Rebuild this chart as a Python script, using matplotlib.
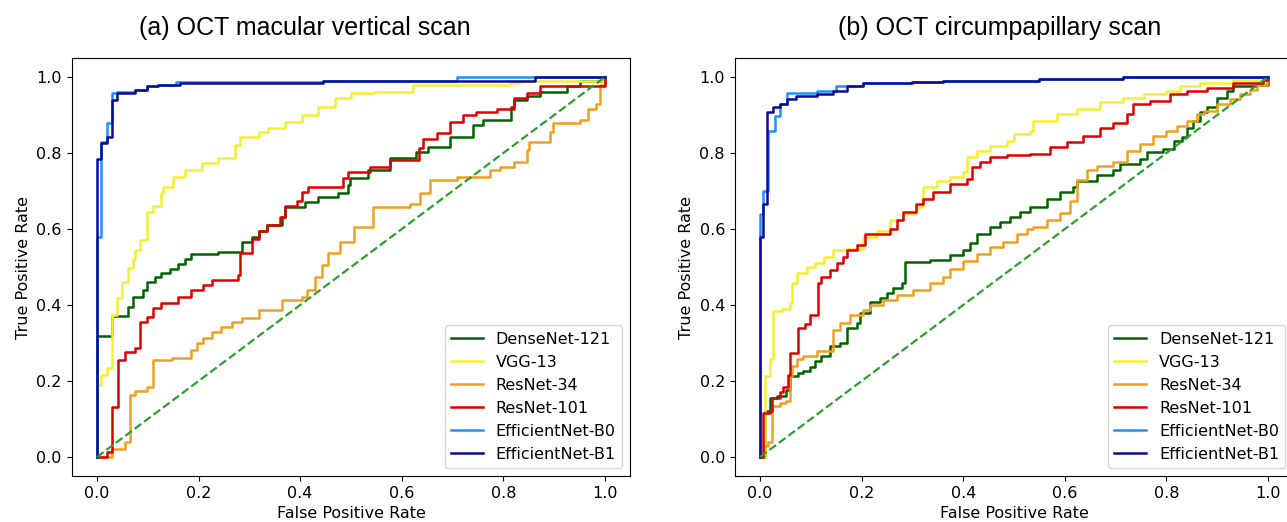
import numpy as np
import matplotlib
matplotlib.use('Agg')
import matplotlib.pyplot as plt

#dane (fpr = punkt skoku, tpr = poziom po skoku)
models = ['DenseNet-121', 'VGG-13', 'ResNet-34', 'ResNet-101', 'EfficientNet-B0', 'EfficientNet-B1']
colors = ['#006400', '#f5f032', '#f0a020', '#e00000', '#2090ff', '#0a0a9a']

#(a) OCT macular vertical scan
a_dense_fpr = [0, 0, 0.029, 0.062, 0.07, 0.091, 0.098, 0.114, 0.127, 0.144, 0.16, 0.173, 0.186, 0.239, 0.285, 0.305, 0.318, 0.334, 0.364, 0.37, 0.409, 0.436, 0.475, 0.495, 0.498, 0.534, 0.577, 0.629, 0.652, 0.695, 0.741, 0.76, 0.816, 0.82, 0.846, 0.872, 0.925, 0.95, 1.0]
a_dense_tpr = [0, 0.318, 0.37, 0.396, 0.42, 0.44, 0.461, 0.474, 0.483, 0.496, 0.509, 0.522, 0.535, 0.54, 0.567, 0.58, 0.596, 0.61, 0.632, 0.659, 0.672, 0.685, 0.694, 0.716, 0.733, 0.755, 0.786, 0.803, 0.816, 0.843, 0.874, 0.886, 0.922, 0.94, 0.95, 0.96, 0.975, 0.99, 1.0]
a_vgg_fpr = [0, 0, 0.008, 0.019, 0.029, 0.039, 0.05, 0.062, 0.07, 0.075, 0.085, 0.098, 0.11, 0.127, 0.13, 0.15, 0.173, 0.206, 0.238, 0.272, 0.282, 0.318, 0.336, 0.37, 0.403, 0.436, 0.469, 0.501, 0.545, 0.622, 0.813, 0.83, 1.0]
a_vgg_tpr = [0, 0.19, 0.216, 0.233, 0.374, 0.418, 0.46, 0.497, 0.52, 0.545, 0.57, 0.645, 0.66, 0.694, 0.71, 0.738, 0.755, 0.773, 0.786, 0.821, 0.843, 0.856, 0.865, 0.882, 0.9, 0.922, 0.944, 0.957, 0.96, 0.979, 0.985, 0.99, 1.0]
a_r34_fpr = [0, 0.029, 0.055, 0.065, 0.075, 0.098, 0.111, 0.147, 0.186, 0.196, 0.209, 0.226, 0.245, 0.265, 0.285, 0.318, 0.364, 0.403, 0.413, 0.429, 0.442, 0.455, 0.478, 0.505, 0.544, 0.616, 0.636, 0.656, 0.708, 0.774, 0.793, 0.82, 0.846, 0.85, 0.892, 0.898, 0.951, 0.967, 0.983, 0.99, 1.0]
a_r34_tpr = [0, 0.02, 0.04, 0.163, 0.175, 0.184, 0.255, 0.26, 0.282, 0.299, 0.312, 0.33, 0.343, 0.356, 0.365, 0.387, 0.413, 0.422, 0.44, 0.474, 0.505, 0.536, 0.567, 0.606, 0.659, 0.667, 0.694, 0.729, 0.737, 0.755, 0.764, 0.777, 0.808, 0.83, 0.856, 0.878, 0.886, 0.917, 0.93, 0.98, 1.0]
a_r101_fpr = [0, 0.019, 0.029, 0.042, 0.055, 0.075, 0.085, 0.098, 0.111, 0.127, 0.16, 0.186, 0.209, 0.226, 0.278, 0.281, 0.305, 0.318, 0.334, 0.36, 0.37, 0.393, 0.403, 0.416, 0.485, 0.495, 0.537, 0.577, 0.633, 0.642, 0.669, 0.695, 0.721, 0.747, 0.787, 0.82, 0.846, 0.872, 1.0]
a_r101_tpr = [0, 0.014, 0.132, 0.255, 0.276, 0.287, 0.356, 0.369, 0.391, 0.404, 0.422, 0.44, 0.452, 0.465, 0.479, 0.536, 0.575, 0.596, 0.61, 0.632, 0.66, 0.675, 0.698, 0.711, 0.733, 0.751, 0.764, 0.782, 0.812, 0.838, 0.852, 0.882, 0.9, 0.909, 0.915, 0.944, 0.957, 0.975, 1.0]
a_b0_fpr = [0, 0, 0.008, 0.02, 0.029, 0.039, 0.075, 0.098, 0.12, 0.155, 0.445, 0.708, 1.0]
a_b0_tpr = [0, 0.58, 0.83, 0.88, 0.957, 0.96, 0.967, 0.976, 0.98, 0.988, 0.99, 1.0, 1.0]
a_b1_fpr = [0, 0, 0.008, 0.019, 0.029, 0.039, 0.075, 0.098, 0.12, 0.163, 0.445, 0.862, 1.0]
a_b1_tpr = [0, 0.784, 0.826, 0.843, 0.94, 0.957, 0.967, 0.976, 0.98, 0.985, 0.99, 1.0, 1.0]

#(b) OCT circumpapillary scan
b_dense_fpr = [0, 0.01, 0.02, 0.033, 0.052, 0.059, 0.075, 0.085, 0.098, 0.108, 0.121, 0.138, 0.157, 0.171, 0.19, 0.197, 0.217, 0.236, 0.249, 0.262, 0.279, 0.285, 0.335, 0.374, 0.4, 0.413, 0.427, 0.453, 0.473, 0.492, 0.512, 0.531, 0.564, 0.591, 0.617, 0.623, 0.663, 0.695, 0.709, 0.748, 0.761, 0.794, 0.814, 0.83, 0.84, 0.853, 0.866, 0.879, 0.899, 0.919, 0.932, 0.978, 1.0]
b_dense_tpr = [0, 0.12, 0.156, 0.16, 0.177, 0.213, 0.22, 0.227, 0.236, 0.252, 0.265, 0.291, 0.3, 0.34, 0.353, 0.379, 0.409, 0.418, 0.431, 0.444, 0.457, 0.514, 0.518, 0.531, 0.545, 0.563, 0.588, 0.606, 0.619, 0.632, 0.645, 0.658, 0.68, 0.697, 0.71, 0.727, 0.741, 0.754, 0.771, 0.784, 0.802, 0.81, 0.832, 0.841, 0.867, 0.885, 0.907, 0.92, 0.946, 0.963, 0.976, 0.98, 1.0]
b_vgg_fpr = [0, 0.01, 0.01, 0.02, 0.026, 0.026, 0.043, 0.059, 0.062, 0.072, 0.092, 0.108, 0.125, 0.144, 0.171, 0.203, 0.23, 0.256, 0.282, 0.308, 0.321, 0.348, 0.374, 0.4, 0.407, 0.427, 0.453, 0.486, 0.499, 0.531, 0.538, 0.584, 0.623, 0.669, 0.715, 0.755, 0.8, 0.827, 0.866, 0.932, 1.0]
b_vgg_tpr = [0, 0.1, 0.213, 0.257, 0.309, 0.383, 0.39, 0.405, 0.457, 0.483, 0.5, 0.51, 0.527, 0.545, 0.548, 0.579, 0.596, 0.623, 0.64, 0.658, 0.71, 0.727, 0.736, 0.749, 0.789, 0.806, 0.819, 0.832, 0.85, 0.859, 0.885, 0.902, 0.915, 0.933, 0.946, 0.955, 0.963, 0.976, 0.985, 0.993, 1.0]
b_r34_fpr = [0, 0.007, 0.016, 0.023, 0.039, 0.052, 0.059, 0.062, 0.072, 0.085, 0.112, 0.144, 0.157, 0.177, 0.203, 0.217, 0.243, 0.269, 0.302, 0.335, 0.361, 0.374, 0.4, 0.427, 0.453, 0.479, 0.505, 0.525, 0.538, 0.564, 0.591, 0.61, 0.623, 0.643, 0.663, 0.695, 0.722, 0.748, 0.774, 0.8, 0.82, 0.84, 0.86, 0.873, 0.899, 0.925, 0.945, 0.965, 0.978, 0.998, 1.0]
b_r34_tpr = [0, 0.03, 0.04, 0.134, 0.143, 0.148, 0.213, 0.239, 0.257, 0.265, 0.278, 0.335, 0.353, 0.374, 0.387, 0.4, 0.413, 0.427, 0.44, 0.457, 0.475, 0.495, 0.515, 0.535, 0.553, 0.567, 0.588, 0.6, 0.606, 0.623, 0.641, 0.675, 0.728, 0.754, 0.767, 0.776, 0.806, 0.824, 0.846, 0.859, 0.872, 0.885, 0.902, 0.911, 0.928, 0.941, 0.955, 0.967, 0.98, 0.993, 1.0]
b_r101_fpr = [0, 0.005, 0.02, 0.023, 0.039, 0.046, 0.056, 0.059, 0.075, 0.088, 0.098, 0.115, 0.121, 0.138, 0.151, 0.164, 0.171, 0.19, 0.207, 0.256, 0.269, 0.282, 0.308, 0.321, 0.341, 0.374, 0.407, 0.417, 0.433, 0.453, 0.486, 0.531, 0.571, 0.604, 0.636, 0.669, 0.695, 0.722, 0.735, 0.768, 0.807, 0.84, 0.879, 0.932, 0.99, 1.0]
b_r101_tpr = [0, 0.117, 0.12, 0.156, 0.17, 0.183, 0.217, 0.274, 0.34, 0.35, 0.374, 0.457, 0.475, 0.492, 0.51, 0.527, 0.545, 0.558, 0.588, 0.601, 0.623, 0.645, 0.667, 0.68, 0.697, 0.719, 0.732, 0.763, 0.775, 0.789, 0.796, 0.798, 0.815, 0.828, 0.846, 0.867, 0.88, 0.902, 0.928, 0.937, 0.955, 0.963, 0.972, 0.985, 0.993, 1.0]
b_b0_fpr = [0, 0, 0.006, 0.016, 0.03, 0.039, 0.053, 0.112, 0.15, 0.203, 0.30, 0.361, 0.55, 0.715, 1.0]
b_b0_tpr = [0, 0.64, 0.70, 0.859, 0.898, 0.93, 0.959, 0.963, 0.976, 0.985, 0.987, 0.99, 0.995, 1.0, 1.0]
b_b1_fpr = [0, 0, 0.005, 0.013, 0.026, 0.039, 0.053, 0.07, 0.112, 0.144, 0.171, 0.203, 0.30, 0.361, 0.55, 0.715, 1.0]
b_b1_tpr = [0, 0.58, 0.667, 0.907, 0.92, 0.93, 0.942, 0.95, 0.955, 0.963, 0.976, 0.985, 0.987, 0.99, 0.995, 1.0, 1.0]

panels = [
    ('(a) OCT macular vertical scan',
     [a_dense_fpr, a_vgg_fpr, a_r34_fpr, a_r101_fpr, a_b0_fpr, a_b1_fpr],
     [a_dense_tpr, a_vgg_tpr, a_r34_tpr, a_r101_tpr, a_b0_tpr, a_b1_tpr]),
    ('(b) OCT circumpapillary scan',
     [b_dense_fpr, b_vgg_fpr, b_r34_fpr, b_r101_fpr, b_b0_fpr, b_b1_fpr],
     [b_dense_tpr, b_vgg_tpr, b_r34_tpr, b_r101_tpr, b_b0_tpr, b_b1_tpr]),
]

#wykres
fig = plt.figure(figsize=(12.87, 5.22), dpi=100)
axes = [fig.add_axes([0.0556, 0.0881, 0.4342, 0.8008]),
        fig.add_axes([0.5708, 0.0881, 0.4342, 0.8008])]
title_x = [0.237, 0.777]

for ax, (title, fprs, tprs), tx in zip(axes, panels, title_x):
    for name, c, f, t in zip(models, colors, fprs, tprs):
        ax.plot(f, t, drawstyle='steps-post', color=c, lw=1.8, label=name)
    ax.plot([0, 1], [0, 1], '--', color='#2ca02c', lw=1.6)
    ax.set_xticks(np.arange(0, 1.01, 0.2))
    ax.set_yticks(np.arange(0, 1.01, 0.2))
    ax.tick_params(labelsize=11.5)
    ax.set_xlabel('False Positive Rate', fontsize=11.5)
    ax.set_ylabel('True Positive Rate', fontsize=11.5)
    ax.legend(loc='lower right', fontsize=11.5)
    fig.text(tx, 0.946, title, ha='center', va='center', fontsize=18, family='Liberation Sans')

fig.savefig('out.png', dpi=100)
